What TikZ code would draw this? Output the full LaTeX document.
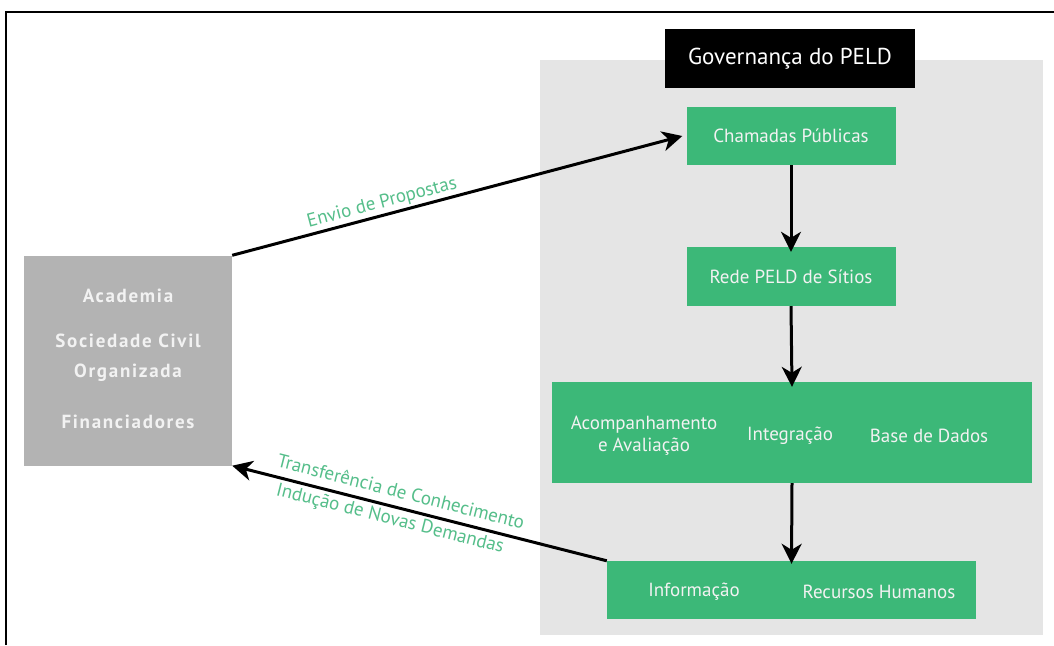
\documentclass[tikz,border=0pt]{standalone}
\usepackage{fontspec}
\setmainfont{PT Sans}
\usetikzlibrary{arrows.meta}
\definecolor{peldgreen}{HTML}{3CB878}
\definecolor{labgreen}{HTML}{55BE8A}
\definecolor{panelgray}{HTML}{E5E5E5}
\definecolor{boxgray}{HTML}{B3B3B3}
\definecolor{boxtext}{HTML}{F2F2F2}
\tikzset{
  gbox/.style={fill=peldgreen, text=boxtext, inner sep=0pt, font=\fontsize{19}{22}\selectfont},
  ltext/.style={text=boxtext, inner sep=0pt, align=center,
      font=\bfseries\fontsize{19}{30}\selectfont\addfontfeatures{LetterSpace=9}},
  flow/.style={line width=3pt, -{Stealth[length=20pt,width=20pt,inset=6pt]}},
  lab/.style={text=labgreen, font=\fontsize{19}{22}\selectfont, inner sep=2pt},
}
\begin{document}
\begin{tikzpicture}[x=1pt,y=-1pt]
\useasboundingbox (0,0) rectangle (1054,645);
\fill[white] (0,0) rectangle (1054,645);
% frame
\draw[line width=2pt] (6,645) -- (6,12) -- (1054,12);
% panel
\fill[panelgray] (540,60) rectangle (1043,635);
% governance title
\node[fill=black, text=white, minimum width=250pt, minimum height=59pt, inner sep=0pt,
      font=\fontsize{23}{27}\selectfont] (gov) at (790,58.5) {Governança do PELD};
% green boxes
\node[gbox, minimum width=209pt, minimum height=58pt] (cham) at (791,136) {Chamadas Públicas};
\node[gbox, minimum width=209pt, minimum height=59pt] (rede) at (791,276.5) {Rede PELD de Sítios};
\node[gbox, minimum width=480pt, minimum height=101pt] (big) at (792,432.5) {};
\node[gbox, align=center] (acomp) at (644,436) {Acompanhamento\\e Avaliação};
\node[gbox] (integ) at (790,436) {Integração};
\node[gbox] (base) at (929,436) {Base de Dados};
\node[gbox, minimum width=369pt, minimum height=58pt] (bot) at (791.5,590) {};
\node[gbox] (info) at (694,592) {Informação};
\node[gbox] (rh) at (879,592) {Recursos Humanos};
% left box
\node[fill=boxgray, minimum width=208pt, minimum height=210pt, inner sep=0pt] (left) at (128,360.5) {};
\node[ltext] (acad) at (128,296) {Academia};
\node[ltext] (soc) at (128,358) {Sociedade Civil\\Organizada};
\node[ltext] (fin) at (128,422) {Financiadores};
% vertical flow
\draw[flow] (cham.south) -- ([yshift=-5pt]rede.north);
\draw[flow] (rede.south) -- ([yshift=-5pt]big.north);
\draw[flow] (big.south) -- ([yshift=-3pt]bot.north);
% diagonal connectors
\draw[flow] (left.north east) -- ([xshift=-4pt]cham.west)
  node[lab, pos=0.34, above, sloped] {Envio de Propostas};
\draw[flow, {Stealth[length=20pt,width=20pt,inset=6pt]}-] (left.south east) -- (bot.north west)
  node[lab, pos=0.44, above, sloped, yshift=6pt] {Transferência de Conhecimento}
  node[lab, pos=0.43, below, sloped, yshift=-1pt] {Indução de Novas Demandas};
\end{tikzpicture}
\end{document}
